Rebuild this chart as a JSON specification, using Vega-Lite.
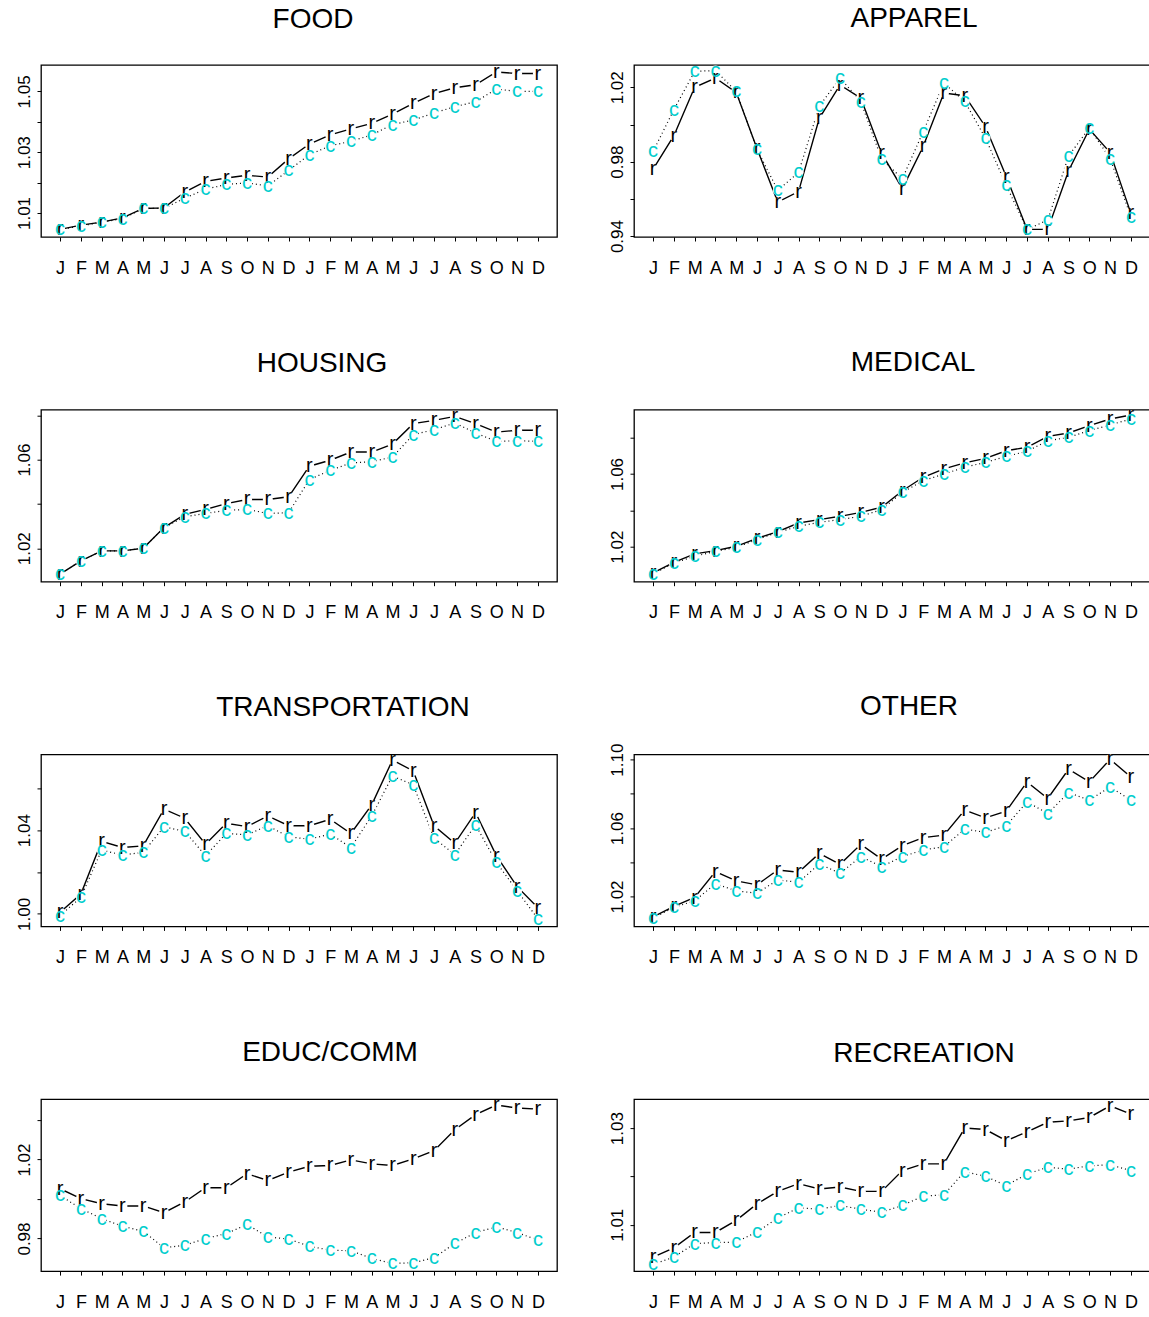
{
  "$schema": "https://vega.github.io/schema/vega-lite/v6.json",
  "background": "white",
  "padding": {"left": 14, "top": 3, "right": 0, "bottom": 0},
  "config": {
    "font": "Liberation Sans",
    "view": {"stroke": "black", "strokeWidth": 1.3},
    "axis": {"grid": false, "domain": false, "tickColor": "black", "tickSize": 4, "tickWidth": 1, "labelColor": "black", "labelFontSize": 18, "labelFlush": false, "labelOverlap": false, "labelBound": false},
    "axisX": {"labelPadding": 18},
    "axisY": {"labelAngle": -90, "labelAlign": "center", "labelBaseline": "bottom", "labelPadding": 4, "labelFontSize": 17},
    "title": {"fontSize": 28, "fontWeight": "normal", "anchor": "middle", "frame": "group", "baseline": "alphabetic", "offset": 28, "color": "black"}
  },
  "data": {"values": [
    {"p":"FOOD","m":1,"r":1.0046,"c":1.0046},{"p":"FOOD","m":2,"r":1.0060,"c":1.0057},{"p":"FOOD","m":3,"r":1.0070,"c":1.0070},{"p":"FOOD","m":4,"r":1.0084,"c":1.0081},{"p":"FOOD","m":5,"r":1.0115,"c":1.0115},{"p":"FOOD","m":6,"r":1.0117,"c":1.0115},{"p":"FOOD","m":7,"r":1.0169,"c":1.0149},{"p":"FOOD","m":8,"r":1.0204,"c":1.0178},{"p":"FOOD","m":9,"r":1.0215,"c":1.0194},{"p":"FOOD","m":10,"r":1.0224,"c":1.0199},{"p":"FOOD","m":11,"r":1.0218,"c":1.0189},{"p":"FOOD","m":12,"r":1.0278,"c":1.0240},{"p":"FOOD","m":13,"r":1.0327,"c":1.0292},{"p":"FOOD","m":14,"r":1.0357,"c":1.0321},{"p":"FOOD","m":15,"r":1.0377,"c":1.0336},{"p":"FOOD","m":16,"r":1.0395,"c":1.0357},{"p":"FOOD","m":17,"r":1.0425,"c":1.0391},{"p":"FOOD","m":18,"r":1.0461,"c":1.0406},{"p":"FOOD","m":19,"r":1.0493,"c":1.0429},{"p":"FOOD","m":20,"r":1.0512,"c":1.0450},{"p":"FOOD","m":21,"r":1.0522,"c":1.0466},{"p":"FOOD","m":22,"r":1.0564,"c":1.0508},{"p":"FOOD","m":23,"r":1.0559,"c":1.0500},{"p":"FOOD","m":24,"r":1.0559,"c":1.0500},
    {"p":"APPAREL","m":1,"r":0.9760,"c":0.9855},{"p":"APPAREL","m":2,"r":0.9940,"c":1.0080},{"p":"APPAREL","m":3,"r":1.0200,"c":1.0286},{"p":"APPAREL","m":4,"r":1.0250,"c":1.0290},{"p":"APPAREL","m":5,"r":1.0173,"c":1.0178},{"p":"APPAREL","m":6,"r":0.9871,"c":0.9867},{"p":"APPAREL","m":7,"r":0.9583,"c":0.9646},{"p":"APPAREL","m":8,"r":0.9639,"c":0.9742},{"p":"APPAREL","m":9,"r":1.0033,"c":1.0098},{"p":"APPAREL","m":10,"r":1.0213,"c":1.0250},{"p":"APPAREL","m":11,"r":1.0141,"c":1.0123},{"p":"APPAREL","m":12,"r":0.9846,"c":0.9813},{"p":"APPAREL","m":13,"r":0.9655,"c":0.9709},{"p":"APPAREL","m":14,"r":0.9882,"c":0.9961},{"p":"APPAREL","m":15,"r":1.0169,"c":1.0223},{"p":"APPAREL","m":16,"r":1.0155,"c":1.0124},{"p":"APPAREL","m":17,"r":0.9988,"c":0.9927},{"p":"APPAREL","m":18,"r":0.9720,"c":0.9673},{"p":"APPAREL","m":19,"r":0.9436,"c":0.9436},{"p":"APPAREL","m":20,"r":0.9436,"c":0.9486},{"p":"APPAREL","m":21,"r":0.9751,"c":0.9831},{"p":"APPAREL","m":22,"r":0.9975,"c":0.9981},{"p":"APPAREL","m":23,"r":0.9849,"c":0.9817},{"p":"APPAREL","m":24,"r":0.9522,"c":0.9504},
    {"p":"HOUSING","m":1,"r":1.0083,"c":1.0083},{"p":"HOUSING","m":2,"r":1.0143,"c":1.0143},{"p":"HOUSING","m":3,"r":1.0188,"c":1.0188},{"p":"HOUSING","m":4,"r":1.0188,"c":1.0188},{"p":"HOUSING","m":5,"r":1.0200,"c":1.0200},{"p":"HOUSING","m":6,"r":1.0293,"c":1.0293},{"p":"HOUSING","m":7,"r":1.0353,"c":1.0342},{"p":"HOUSING","m":8,"r":1.0375,"c":1.0357},{"p":"HOUSING","m":9,"r":1.0401,"c":1.0371},{"p":"HOUSING","m":10,"r":1.0420,"c":1.0375},{"p":"HOUSING","m":11,"r":1.0420,"c":1.0357},{"p":"HOUSING","m":12,"r":1.0432,"c":1.0360},{"p":"HOUSING","m":13,"r":1.0570,"c":1.0510},{"p":"HOUSING","m":14,"r":1.0597,"c":1.0551},{"p":"HOUSING","m":15,"r":1.0634,"c":1.0585},{"p":"HOUSING","m":16,"r":1.0634,"c":1.0590},{"p":"HOUSING","m":17,"r":1.0670,"c":1.0612},{"p":"HOUSING","m":18,"r":1.0762,"c":1.0712},{"p":"HOUSING","m":19,"r":1.0777,"c":1.0735},{"p":"HOUSING","m":20,"r":1.0795,"c":1.0765},{"p":"HOUSING","m":21,"r":1.0762,"c":1.0720},{"p":"HOUSING","m":22,"r":1.0724,"c":1.0682},{"p":"HOUSING","m":23,"r":1.0732,"c":1.0685},{"p":"HOUSING","m":24,"r":1.0732,"c":1.0682},
    {"p":"MEDICAL","m":1,"r":1.0055,"c":1.0050},{"p":"MEDICAL","m":2,"r":1.0114,"c":1.0110},{"p":"MEDICAL","m":3,"r":1.0160,"c":1.0147},{"p":"MEDICAL","m":4,"r":1.0178,"c":1.0174},{"p":"MEDICAL","m":5,"r":1.0202,"c":1.0196},{"p":"MEDICAL","m":6,"r":1.0246,"c":1.0239},{"p":"MEDICAL","m":7,"r":1.0283,"c":1.0279},{"p":"MEDICAL","m":8,"r":1.0330,"c":1.0312},{"p":"MEDICAL","m":9,"r":1.0349,"c":1.0334},{"p":"MEDICAL","m":10,"r":1.0367,"c":1.0349},{"p":"MEDICAL","m":11,"r":1.0389,"c":1.0367},{"p":"MEDICAL","m":12,"r":1.0417,"c":1.0404},{"p":"MEDICAL","m":13,"r":1.0508,"c":1.0499},{"p":"MEDICAL","m":14,"r":1.0582,"c":1.0563},{"p":"MEDICAL","m":15,"r":1.0628,"c":1.0600},{"p":"MEDICAL","m":16,"r":1.0661,"c":1.0637},{"p":"MEDICAL","m":17,"r":1.0686,"c":1.0664},{"p":"MEDICAL","m":18,"r":1.0728,"c":1.0697},{"p":"MEDICAL","m":19,"r":1.0747,"c":1.0725},{"p":"MEDICAL","m":20,"r":1.0807,"c":1.0783},{"p":"MEDICAL","m":21,"r":1.0826,"c":1.0802},{"p":"MEDICAL","m":22,"r":1.0866,"c":1.0839},{"p":"MEDICAL","m":23,"r":1.0903,"c":1.0870},{"p":"MEDICAL","m":24,"r":1.0925,"c":1.0903},
    {"p":"TRANSPORTATION","m":1,"r":1.0008,"c":0.9992},{"p":"TRANSPORTATION","m":2,"r":1.0095,"c":1.0079},{"p":"TRANSPORTATION","m":3,"r":1.0346,"c":1.0305},{"p":"TRANSPORTATION","m":4,"r":1.0317,"c":1.0281},{"p":"TRANSPORTATION","m":5,"r":1.0325,"c":1.0294},{"p":"TRANSPORTATION","m":6,"r":1.0500,"c":1.0416},{"p":"TRANSPORTATION","m":7,"r":1.0457,"c":1.0394},{"p":"TRANSPORTATION","m":8,"r":1.0333,"c":1.0278},{"p":"TRANSPORTATION","m":9,"r":1.0433,"c":1.0384},{"p":"TRANSPORTATION","m":10,"r":1.0417,"c":1.0378},{"p":"TRANSPORTATION","m":11,"r":1.0468,"c":1.0421},{"p":"TRANSPORTATION","m":12,"r":1.0421,"c":1.0368},{"p":"TRANSPORTATION","m":13,"r":1.0421,"c":1.0357},{"p":"TRANSPORTATION","m":14,"r":1.0452,"c":1.0381},{"p":"TRANSPORTATION","m":15,"r":1.0384,"c":1.0317},{"p":"TRANSPORTATION","m":16,"r":1.0521,"c":1.0468},{"p":"TRANSPORTATION","m":17,"r":1.0735,"c":1.0659},{"p":"TRANSPORTATION","m":18,"r":1.0683,"c":1.0616},{"p":"TRANSPORTATION","m":19,"r":1.0421,"c":1.0362},{"p":"TRANSPORTATION","m":20,"r":1.0337,"c":1.0283},{"p":"TRANSPORTATION","m":21,"r":1.0484,"c":1.0425},{"p":"TRANSPORTATION","m":22,"r":1.0278,"c":1.0246},{"p":"TRANSPORTATION","m":23,"r":1.0130,"c":1.0111},{"p":"TRANSPORTATION","m":24,"r":1.0029,"c":0.9976},
    {"p":"OTHER","m":1,"r":1.0080,"c":1.0074},{"p":"OTHER","m":2,"r":1.0142,"c":1.0136},{"p":"OTHER","m":3,"r":1.0194,"c":1.0175},{"p":"OTHER","m":4,"r":1.0346,"c":1.0274},{"p":"OTHER","m":5,"r":1.0291,"c":1.0233},{"p":"OTHER","m":6,"r":1.0268,"c":1.0219},{"p":"OTHER","m":7,"r":1.0355,"c":1.0297},{"p":"OTHER","m":8,"r":1.0342,"c":1.0283},{"p":"OTHER","m":9,"r":1.0452,"c":1.0390},{"p":"OTHER","m":10,"r":1.0388,"c":1.0336},{"p":"OTHER","m":11,"r":1.0505,"c":1.0433},{"p":"OTHER","m":12,"r":1.0419,"c":1.0375},{"p":"OTHER","m":13,"r":1.0497,"c":1.0433},{"p":"OTHER","m":14,"r":1.0544,"c":1.0472},{"p":"OTHER","m":15,"r":1.0559,"c":1.0491},{"p":"OTHER","m":16,"r":1.0705,"c":1.0594},{"p":"OTHER","m":17,"r":1.0660,"c":1.0575},{"p":"OTHER","m":18,"r":1.0699,"c":1.0614},{"p":"OTHER","m":19,"r":1.0870,"c":1.0753},{"p":"OTHER","m":20,"r":1.0773,"c":1.0685},{"p":"OTHER","m":21,"r":1.0944,"c":1.0808},{"p":"OTHER","m":22,"r":1.0870,"c":1.0763},{"p":"OTHER","m":23,"r":1.1002,"c":1.0841},{"p":"OTHER","m":24,"r":1.0899,"c":1.0763},
    {"p":"EDUC/COMM","m":1,"r":1.0052,"c":1.0018},{"p":"EDUC/COMM","m":2,"r":1.0002,"c":0.9951},{"p":"EDUC/COMM","m":3,"r":0.9976,"c":0.9901},{"p":"EDUC/COMM","m":4,"r":0.9965,"c":0.9862},{"p":"EDUC/COMM","m":5,"r":0.9965,"c":0.9837},{"p":"EDUC/COMM","m":6,"r":0.9931,"c":0.9753},{"p":"EDUC/COMM","m":7,"r":0.9985,"c":0.9766},{"p":"EDUC/COMM","m":8,"r":1.0057,"c":0.9800},{"p":"EDUC/COMM","m":9,"r":1.0057,"c":0.9825},{"p":"EDUC/COMM","m":10,"r":1.0128,"c":0.9871},{"p":"EDUC/COMM","m":11,"r":1.0094,"c":0.9808},{"p":"EDUC/COMM","m":12,"r":1.0136,"c":0.9797},{"p":"EDUC/COMM","m":13,"r":1.0166,"c":0.9761},{"p":"EDUC/COMM","m":14,"r":1.0170,"c":0.9741},{"p":"EDUC/COMM","m":15,"r":1.0198,"c":0.9738},{"p":"EDUC/COMM","m":16,"r":1.0178,"c":0.9699},{"p":"EDUC/COMM","m":17,"r":1.0170,"c":0.9674},{"p":"EDUC/COMM","m":18,"r":1.0203,"c":0.9677},{"p":"EDUC/COMM","m":19,"r":1.0245,"c":0.9703},{"p":"EDUC/COMM","m":20,"r":1.0351,"c":0.9775},{"p":"EDUC/COMM","m":21,"r":1.0427,"c":0.9830},{"p":"EDUC/COMM","m":22,"r":1.0476,"c":0.9859},{"p":"EDUC/COMM","m":23,"r":1.0461,"c":0.9830},{"p":"EDUC/COMM","m":24,"r":1.0455,"c":0.9792},
    {"p":"RECREATION","m":1,"r":1.0033,"c":1.0018},{"p":"RECREATION","m":2,"r":1.0052,"c":1.0033},{"p":"RECREATION","m":3,"r":1.0084,"c":1.0061},{"p":"RECREATION","m":4,"r":1.0084,"c":1.0063},{"p":"RECREATION","m":5,"r":1.0109,"c":1.0064},{"p":"RECREATION","m":6,"r":1.0143,"c":1.0085},{"p":"RECREATION","m":7,"r":1.0169,"c":1.0114},{"p":"RECREATION","m":8,"r":1.0185,"c":1.0135},{"p":"RECREATION","m":9,"r":1.0174,"c":1.0132},{"p":"RECREATION","m":10,"r":1.0178,"c":1.0140},{"p":"RECREATION","m":11,"r":1.0169,"c":1.0132},{"p":"RECREATION","m":12,"r":1.0169,"c":1.0126},{"p":"RECREATION","m":13,"r":1.0212,"c":1.0140},{"p":"RECREATION","m":14,"r":1.0226,"c":1.0159},{"p":"RECREATION","m":15,"r":1.0226,"c":1.0162},{"p":"RECREATION","m":16,"r":1.0300,"c":1.0210},{"p":"RECREATION","m":17,"r":1.0297,"c":1.0200},{"p":"RECREATION","m":18,"r":1.0274,"c":1.0181},{"p":"RECREATION","m":19,"r":1.0292,"c":1.0205},{"p":"RECREATION","m":20,"r":1.0312,"c":1.0219},{"p":"RECREATION","m":21,"r":1.0315,"c":1.0215},{"p":"RECREATION","m":22,"r":1.0322,"c":1.0222},{"p":"RECREATION","m":23,"r":1.0346,"c":1.0224},{"p":"RECREATION","m":24,"r":1.0329,"c":1.0212}
  ]},
  "columns": 2,
  "spacing": {"row": 172.7, "column": 77},
  "bounds": "flush",
  "concat": [
    {"title": {"text": "FOOD", "dx": 14}, "width": 516, "height": 172,
     "transform": [{"filter": "datum.p === 'FOOD'"}],
     "encoding": {
       "x": {"field": "m", "type": "quantitative", "title": null, "scale": {"domain": [0.08, 24.92], "nice": false, "zero": false}, "axis": {"values": [1,2,3,4,5,6,7,8,9,10,11,12,13,14,15,16,17,18,19,20,21,22,23,24], "labelExpr": "['J','F','M','A','M','J','J','A','S','O','N','D'][(datum.value - 1) % 12]"}},
       "y": {"field": "r", "type": "quantitative", "title": null, "scale": {"domain": [1.0021, 1.0587], "nice": false, "zero": false}, "axis": {"values": [1.01, 1.02, 1.03, 1.04, 1.05], "labelExpr": "(round(datum.value * 100) % 2 == 1) ? format(datum.value, '.2f') : ''"}}
     },
     "layer": [
      {"mark": {"type": "line", "color": "black", "strokeWidth": 1.4}},
      {"mark": {"type": "line", "color": "black", "strokeWidth": 1.2, "strokeDash": [1, 3]}, "encoding": {"y": {"field": "c", "type": "quantitative", "title": null}}},
      {"mark": {"type": "point", "filled": true, "color": "white", "opacity": 1, "size": 100}},
      {"mark": {"type": "point", "filled": true, "color": "white", "opacity": 1, "size": 100}, "encoding": {"y": {"field": "c", "type": "quantitative", "title": null}}},
      {"mark": {"type": "text", "text": "r", "color": "black", "fontSize": 20}},
      {"mark": {"type": "text", "text": "c", "color": "#00CDCD", "fontSize": 20}, "encoding": {"y": {"field": "c", "type": "quantitative", "title": null}}}
     ]},
    {"title": {"text": "APPAREL", "dx": 22}, "width": 516, "height": 172,
     "transform": [{"filter": "datum.p === 'APPAREL'"}],
     "encoding": {
       "x": {"field": "m", "type": "quantitative", "title": null, "scale": {"domain": [0.08, 24.92], "nice": false, "zero": false}, "axis": {"values": [1,2,3,4,5,6,7,8,9,10,11,12,13,14,15,16,17,18,19,20,21,22,23,24], "labelExpr": "['J','F','M','A','M','J','J','A','S','O','N','D'][(datum.value - 1) % 12]"}},
       "y": {"field": "r", "type": "quantitative", "title": null, "scale": {"domain": [0.9395, 1.032], "nice": false, "zero": false}, "axis": {"values": [0.94, 0.96, 0.98, 1.0, 1.02], "labelExpr": "(round(datum.value * 100) % 4 == 2) ? format(datum.value, '.2f') : ''"}}
     },
     "layer": [
      {"mark": {"type": "line", "color": "black", "strokeWidth": 1.4}},
      {"mark": {"type": "line", "color": "black", "strokeWidth": 1.2, "strokeDash": [1, 3]}, "encoding": {"y": {"field": "c", "type": "quantitative", "title": null}}},
      {"mark": {"type": "point", "filled": true, "color": "white", "opacity": 1, "size": 100}},
      {"mark": {"type": "point", "filled": true, "color": "white", "opacity": 1, "size": 100}, "encoding": {"y": {"field": "c", "type": "quantitative", "title": null}}},
      {"mark": {"type": "text", "text": "r", "color": "black", "fontSize": 20}},
      {"mark": {"type": "text", "text": "c", "color": "#00CDCD", "fontSize": 20}, "encoding": {"y": {"field": "c", "type": "quantitative", "title": null}}}
     ]},
    {"title": {"text": "HOUSING", "dx": 23}, "width": 516, "height": 172,
     "transform": [{"filter": "datum.p === 'HOUSING'"}],
     "encoding": {
       "x": {"field": "m", "type": "quantitative", "title": null, "scale": {"domain": [0.08, 24.92], "nice": false, "zero": false}, "axis": {"values": [1,2,3,4,5,6,7,8,9,10,11,12,13,14,15,16,17,18,19,20,21,22,23,24], "labelExpr": "['J','F','M','A','M','J','J','A','S','O','N','D'][(datum.value - 1) % 12]"}},
       "y": {"field": "r", "type": "quantitative", "title": null, "scale": {"domain": [1.0049, 1.0825], "nice": false, "zero": false}, "axis": {"values": [1.02, 1.04, 1.06, 1.08], "labelExpr": "(round(datum.value * 100) % 4 == 2) ? format(datum.value, '.2f') : ''"}}
     },
     "layer": [
      {"mark": {"type": "line", "color": "black", "strokeWidth": 1.4}},
      {"mark": {"type": "line", "color": "black", "strokeWidth": 1.2, "strokeDash": [1, 3]}, "encoding": {"y": {"field": "c", "type": "quantitative", "title": null}}},
      {"mark": {"type": "point", "filled": true, "color": "white", "opacity": 1, "size": 100}},
      {"mark": {"type": "point", "filled": true, "color": "white", "opacity": 1, "size": 100}, "encoding": {"y": {"field": "c", "type": "quantitative", "title": null}}},
      {"mark": {"type": "text", "text": "r", "color": "black", "fontSize": 20}},
      {"mark": {"type": "text", "text": "c", "color": "#00CDCD", "fontSize": 20}, "encoding": {"y": {"field": "c", "type": "quantitative", "title": null}}}
     ]},
    {"title": {"text": "MEDICAL", "dx": 21}, "width": 516, "height": 172,
     "transform": [{"filter": "datum.p === 'MEDICAL'"}],
     "encoding": {
       "x": {"field": "m", "type": "quantitative", "title": null, "scale": {"domain": [0.08, 24.92], "nice": false, "zero": false}, "axis": {"values": [1,2,3,4,5,6,7,8,9,10,11,12,13,14,15,16,17,18,19,20,21,22,23,24], "labelExpr": "['J','F','M','A','M','J','J','A','S','O','N','D'][(datum.value - 1) % 12]"}},
       "y": {"field": "r", "type": "quantitative", "title": null, "scale": {"domain": [1.0007, 1.0954], "nice": false, "zero": false}, "axis": {"values": [1.02, 1.04, 1.06, 1.08], "labelExpr": "(round(datum.value * 100) % 4 == 2) ? format(datum.value, '.2f') : ''"}}
     },
     "layer": [
      {"mark": {"type": "line", "color": "black", "strokeWidth": 1.4}},
      {"mark": {"type": "line", "color": "black", "strokeWidth": 1.2, "strokeDash": [1, 3]}, "encoding": {"y": {"field": "c", "type": "quantitative", "title": null}}},
      {"mark": {"type": "point", "filled": true, "color": "white", "opacity": 1, "size": 100}},
      {"mark": {"type": "point", "filled": true, "color": "white", "opacity": 1, "size": 100}, "encoding": {"y": {"field": "c", "type": "quantitative", "title": null}}},
      {"mark": {"type": "text", "text": "r", "color": "black", "fontSize": 20}},
      {"mark": {"type": "text", "text": "c", "color": "#00CDCD", "fontSize": 20}, "encoding": {"y": {"field": "c", "type": "quantitative", "title": null}}}
     ]},
    {"title": {"text": "TRANSPORTATION", "dx": 44}, "width": 516, "height": 172,
     "transform": [{"filter": "datum.p === 'TRANSPORTATION'"}],
     "encoding": {
       "x": {"field": "m", "type": "quantitative", "title": null, "scale": {"domain": [0.08, 24.92], "nice": false, "zero": false}, "axis": {"values": [1,2,3,4,5,6,7,8,9,10,11,12,13,14,15,16,17,18,19,20,21,22,23,24], "labelExpr": "['J','F','M','A','M','J','J','A','S','O','N','D'][(datum.value - 1) % 12]"}},
       "y": {"field": "r", "type": "quantitative", "title": null, "scale": {"domain": [0.994, 1.0762], "nice": false, "zero": false}, "axis": {"values": [1.0, 1.02, 1.04, 1.06], "labelExpr": "(round(datum.value * 100) % 4 == 0) ? format(datum.value, '.2f') : ''"}}
     },
     "layer": [
      {"mark": {"type": "line", "color": "black", "strokeWidth": 1.4}},
      {"mark": {"type": "line", "color": "black", "strokeWidth": 1.2, "strokeDash": [1, 3]}, "encoding": {"y": {"field": "c", "type": "quantitative", "title": null}}},
      {"mark": {"type": "point", "filled": true, "color": "white", "opacity": 1, "size": 100}},
      {"mark": {"type": "point", "filled": true, "color": "white", "opacity": 1, "size": 100}, "encoding": {"y": {"field": "c", "type": "quantitative", "title": null}}},
      {"mark": {"type": "text", "text": "r", "color": "black", "fontSize": 20}},
      {"mark": {"type": "text", "text": "c", "color": "#00CDCD", "fontSize": 20}, "encoding": {"y": {"field": "c", "type": "quantitative", "title": null}}}
     ]},
    {"title": {"text": "OTHER", "dx": 17, "dy": 6}, "width": 516, "height": 172,
     "transform": [{"filter": "datum.p === 'OTHER'"}],
     "encoding": {
       "x": {"field": "m", "type": "quantitative", "title": null, "scale": {"domain": [0.08, 24.92], "nice": false, "zero": false}, "axis": {"values": [1,2,3,4,5,6,7,8,9,10,11,12,13,14,15,16,17,18,19,20,21,22,23,24], "labelExpr": "['J','F','M','A','M','J','J','A','S','O','N','D'][(datum.value - 1) % 12]"}},
       "y": {"field": "r", "type": "quantitative", "title": null, "scale": {"domain": [1.0025, 1.1031], "nice": false, "zero": false}, "axis": {"values": [1.02, 1.04, 1.06, 1.08, 1.1], "labelExpr": "(round(datum.value * 100) % 4 == 2) ? format(datum.value, '.2f') : ''"}}
     },
     "layer": [
      {"mark": {"type": "line", "color": "black", "strokeWidth": 1.4}},
      {"mark": {"type": "line", "color": "black", "strokeWidth": 1.2, "strokeDash": [1, 3]}, "encoding": {"y": {"field": "c", "type": "quantitative", "title": null}}},
      {"mark": {"type": "point", "filled": true, "color": "white", "opacity": 1, "size": 100}},
      {"mark": {"type": "point", "filled": true, "color": "white", "opacity": 1, "size": 100}, "encoding": {"y": {"field": "c", "type": "quantitative", "title": null}}},
      {"mark": {"type": "text", "text": "r", "color": "black", "fontSize": 20}},
      {"mark": {"type": "text", "text": "c", "color": "#00CDCD", "fontSize": 20}, "encoding": {"y": {"field": "c", "type": "quantitative", "title": null}}}
     ]},
    {"title": {"text": "EDUC/COMM", "dx": 31}, "width": 516, "height": 172,
     "transform": [{"filter": "datum.p === 'EDUC/COMM'"}],
     "encoding": {
       "x": {"field": "m", "type": "quantitative", "title": null, "scale": {"domain": [0.08, 24.92], "nice": false, "zero": false}, "axis": {"values": [1,2,3,4,5,6,7,8,9,10,11,12,13,14,15,16,17,18,19,20,21,22,23,24], "labelExpr": "['J','F','M','A','M','J','J','A','S','O','N','D'][(datum.value - 1) % 12]"}},
       "y": {"field": "r", "type": "quantitative", "title": null, "scale": {"domain": [0.9635, 1.0506], "nice": false, "zero": false}, "axis": {"values": [0.98, 1.0, 1.02, 1.04], "labelExpr": "(round(datum.value * 100) % 4 == 2) ? format(datum.value, '.2f') : ''"}}
     },
     "layer": [
      {"mark": {"type": "line", "color": "black", "strokeWidth": 1.4}},
      {"mark": {"type": "line", "color": "black", "strokeWidth": 1.2, "strokeDash": [1, 3]}, "encoding": {"y": {"field": "c", "type": "quantitative", "title": null}}},
      {"mark": {"type": "point", "filled": true, "color": "white", "opacity": 1, "size": 100}},
      {"mark": {"type": "point", "filled": true, "color": "white", "opacity": 1, "size": 100}, "encoding": {"y": {"field": "c", "type": "quantitative", "title": null}}},
      {"mark": {"type": "text", "text": "r", "color": "black", "fontSize": 20}},
      {"mark": {"type": "text", "text": "c", "color": "#00CDCD", "fontSize": 20}, "encoding": {"y": {"field": "c", "type": "quantitative", "title": null}}}
     ]},
    {"title": {"text": "RECREATION", "dx": 32}, "width": 516, "height": 172,
     "transform": [{"filter": "datum.p === 'RECREATION'"}],
     "encoding": {
       "x": {"field": "m", "type": "quantitative", "title": null, "scale": {"domain": [0.08, 24.92], "nice": false, "zero": false}, "axis": {"values": [1,2,3,4,5,6,7,8,9,10,11,12,13,14,15,16,17,18,19,20,21,22,23,24], "labelExpr": "['J','F','M','A','M','J','J','A','S','O','N','D'][(datum.value - 1) % 12]"}},
       "y": {"field": "r", "type": "quantitative", "title": null, "scale": {"domain": [1.0004, 1.036], "nice": false, "zero": false}, "axis": {"values": [1.01, 1.02, 1.03], "labelExpr": "(round(datum.value * 100) % 2 == 1) ? format(datum.value, '.2f') : ''"}}
     },
     "layer": [
      {"mark": {"type": "line", "color": "black", "strokeWidth": 1.4}},
      {"mark": {"type": "line", "color": "black", "strokeWidth": 1.2, "strokeDash": [1, 3]}, "encoding": {"y": {"field": "c", "type": "quantitative", "title": null}}},
      {"mark": {"type": "point", "filled": true, "color": "white", "opacity": 1, "size": 100}},
      {"mark": {"type": "point", "filled": true, "color": "white", "opacity": 1, "size": 100}, "encoding": {"y": {"field": "c", "type": "quantitative", "title": null}}},
      {"mark": {"type": "text", "text": "r", "color": "black", "fontSize": 20}},
      {"mark": {"type": "text", "text": "c", "color": "#00CDCD", "fontSize": 20}, "encoding": {"y": {"field": "c", "type": "quantitative", "title": null}}}
     ]}
  ]
}
